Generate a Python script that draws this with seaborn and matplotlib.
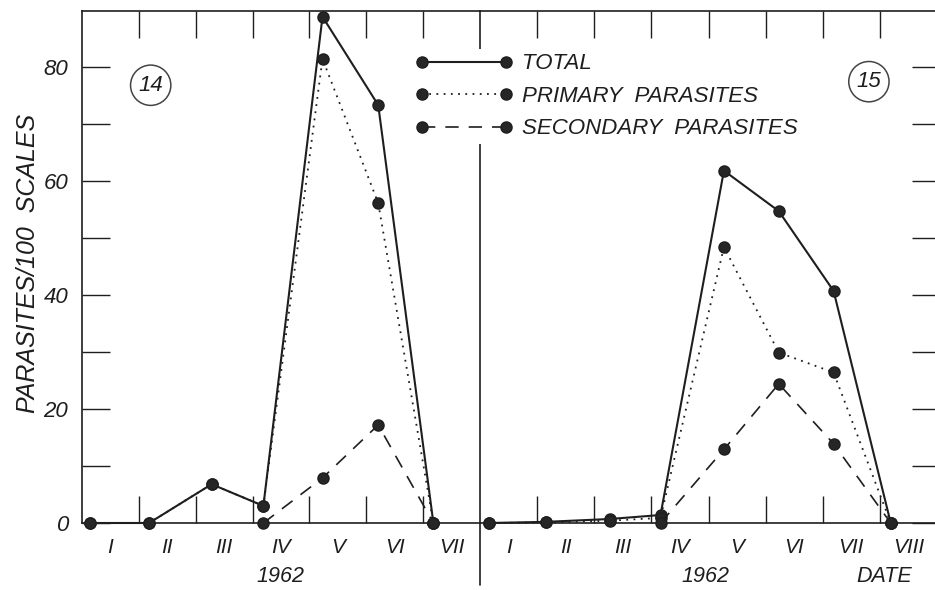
import numpy as np
import pandas as pd
import matplotlib
matplotlib.use("Agg")
import matplotlib.pyplot as plt
import matplotlib.transforms as mtransforms
import seaborn as sns

# ---------------- data ----------------
months14 = ["I", "II", "III", "IV", "V", "VI", "VII"]
months15 = ["I", "II", "III", "IV", "V", "VI", "VII", "VIII"]

# sampling dates, in months counted from the start of January 1962
date14 = [0.14, 1.18, 2.28, 3.19, 4.23, 5.21, 6.18]
total14 = [0, 0, 6.8, 3.0, 88.8, 73.3, 0]
primary14 = [0, 0, 6.8, 3.0, 81.4, 56.1, 0]
date14_sec = [3.19, 4.23, 5.21, 6.18]
secondary14 = [0, 7.9, 17.2, 0]

date15 = [0.16, 1.15, 2.27, 3.16, 4.27, 5.23, 6.19, 7.19]
total15 = [0, 0.2, 0.7, 1.4, 61.8, 54.7, 40.7, 0]
primary15 = [0, 0.1, 0.4, 0.9, 48.4, 29.9, 26.4, 0]
date15_sec = [3.16, 4.27, 5.23, 6.19, 7.19]
secondary15 = [0, 12.9, 24.4, 13.9, 0]

series_labels = ["TOTAL", "PRIMARY  PARASITES", "SECONDARY  PARASITES"]
panel_ids = ["14", "15"]
year_label = "1962"
x_title = "DATE"
y_title = "PARASITES/100  SCALES"
y_major = [0, 20, 40, 60, 80]
y_minor = [10, 30, 50, 70]

# ---------------- style ----------------
sns.set_style("white")
plt.rcParams["font.family"] = ["Liberation Sans", "DejaVu Sans"]
plt.rcParams["font.style"] = "italic"
ink = "#1e1e1e"
face = "#262626"

W, H = 935, 590
fig = plt.figure(figsize=(W / 100, H / 100), dpi=100)
fig.patch.set_facecolor("white")


def px_axes(x0, y_top, x1, y_bottom):
    return fig.add_axes([x0 / W, 1 - y_bottom / H, (x1 - x0) / W, (y_bottom - y_top) / H])


axL = px_axes(82, 11, 480, 523)
axR = px_axes(480, 11, 937, 523)

line_styles = [
    dict(linestyle="-", linewidth=1.5),
    dict(linestyle=(0, (1, 3)), linewidth=1.3),
    dict(linestyle=(0, (8, 6)), linewidth=1.2),
]


def draw(ax, x, y, label, st):
    sns.lineplot(x=x, y=y, ax=ax, sort=False, estimator=None, errorbar=None,
                 legend=False, color=ink, marker="o", markersize=8,
                 markerfacecolor=face, markeredgecolor=ink, markeredgewidth=1.0,
                 label=label, clip_on=False, zorder=3, **st)


draw(axL, date14, total14, series_labels[0], line_styles[0])
draw(axL, date14, primary14, series_labels[1], line_styles[1])
draw(axL, date14_sec, secondary14, series_labels[2], line_styles[2])

draw(axR, date15, total15, series_labels[0], line_styles[0])
draw(axR, date15, primary15, series_labels[1], line_styles[1])
draw(axR, date15_sec, secondary15, series_labels[2], line_styles[2])

for ax, months in ((axL, months14), (axR, months15)):
    n = len(months)
    ax.set_facecolor("none")
    ax.set_xlim(0, n)
    ax.set_ylim(0, 89.8)
    ax.set_xlabel("")
    ax.set_ylabel("")
    ax.set_xticks(np.arange(1, n))
    ax.set_xticks(np.arange(n) + 0.5, minor=True)
    ax.set_xticklabels([], minor=False)
    ax.set_xticklabels(months, minor=True)
    ax.tick_params(axis="x", which="major", direction="in", length=19.5, width=1.0,
                   color=ink, top=True, bottom=True, labelbottom=False)
    ax.tick_params(axis="x", which="minor", length=0, pad=11, labelsize=15,
                   labelcolor=ink, top=False)
    for s in ax.spines.values():
        s.set_color(ink)
        s.set_linewidth(1.2)

# left panel: y axis with labels
axL.spines["right"].set_visible(False)
axL.set_yticks(y_major)
axL.set_yticks(y_minor, minor=True)
axL.set_yticklabels([str(v) for v in y_major])
axL.tick_params(axis="y", which="both", direction="in", length=20, width=1.0,
                color=ink, left=True, right=False, labelsize=16, pad=10,
                labelcolor=ink)
axL.set_ylabel(y_title, fontsize=18, color=ink, va="center")
axL.yaxis.set_label_coords(-0.135, 0.506)

# divider between the two panels
axL.axvline(len(months14), ymin=-0.121, ymax=1, color=ink, lw=1.2, clip_on=False)

# right panel: ticks on right only
axR.spines["left"].set_visible(False)
axR.set_yticks(y_major)
axR.set_yticks(y_minor, minor=True)
axR.tick_params(axis="y", which="both", direction="in", length=18, width=1.0,
                color=ink, left=False, right=True, labelleft=False, labelright=False)

# year / date texts
tL = mtransforms.blended_transform_factory(axL.transData, axL.transAxes)
tR = mtransforms.blended_transform_factory(axR.transData, axR.transAxes)
axL.text(3.49, -0.104, year_label, transform=tL, ha="center", va="center",
         fontsize=15.5, color=ink)
axR.text(3.95, -0.104, year_label, transform=tR, ha="center", va="center",
         fontsize=15.5, color=ink)
axR.text(7.07, -0.104, x_title, transform=tR, ha="center", va="center",
         fontsize=15.5, color=ink)

# circled panel numbers
circ = dict(boxstyle="circle,pad=0.35", facecolor="white", edgecolor="#444444", linewidth=1.1)
axL.text(0.1726, 0.855, panel_ids[0], transform=axL.transAxes, ha="center", va="center",
         fontsize=16, color=ink, bbox=circ)
axR.text(0.851, 0.862, panel_ids[1], transform=axR.transAxes, ha="center", va="center",
         fontsize=16, color=ink, bbox=circ)

# legend
handles, labels = axL.get_legend_handles_labels()
fig.legend(handles, labels, loc="upper left", bbox_to_anchor=(410.9 / W, 1 - 48.9 / H),
           bbox_transform=fig.transFigure, numpoints=2, handlelength=4.4,
           handletextpad=0.42, labelspacing=0.52, borderpad=0.2, borderaxespad=0,
           frameon=True, facecolor="white", edgecolor="none", framealpha=1,
           fancybox=False, fontsize=16, labelcolor=ink)

fig.savefig("out.png", dpi=100, facecolor="white")
